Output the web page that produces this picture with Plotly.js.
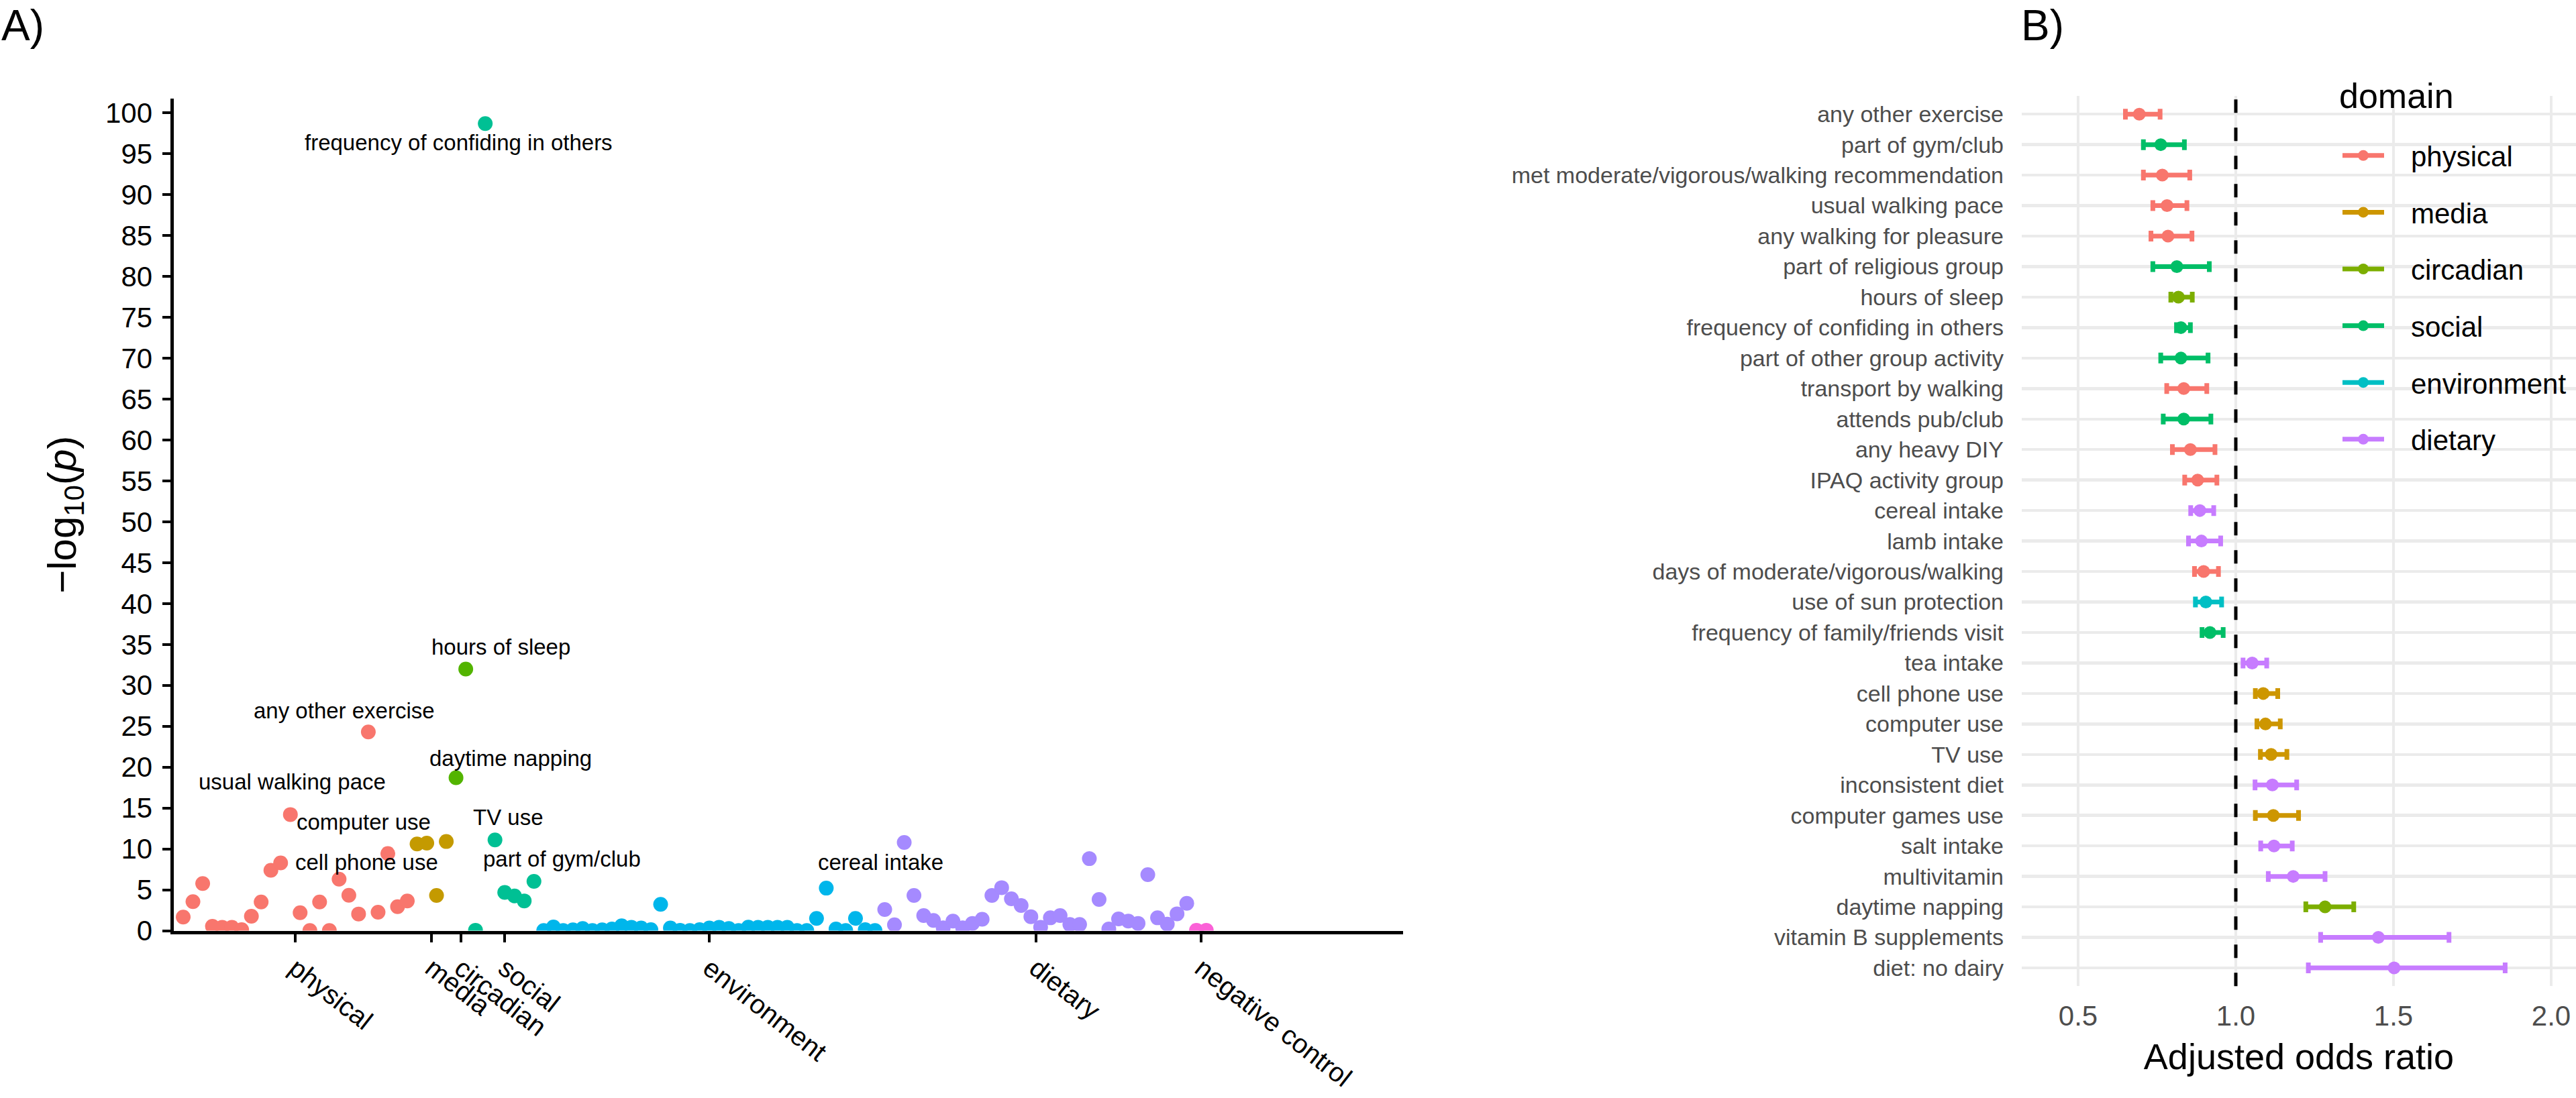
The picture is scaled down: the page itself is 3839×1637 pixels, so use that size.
<!DOCTYPE html>
<html>
<head>
<meta charset="utf-8">
<script src="https://cdn.plot.ly/plotly-3.0.1.min.js"></script>
<style>
html,body{margin:0;padding:0;background:#ffffff;}
#chart{width:3839px;height:1637px;}
</style>
</head>
<body>
<div id="chart"></div>
<script>
// ---------------- Panel A data (−log10 p per variable, grouped by domain) ----------------
const manhattanGroups = ["physical","media","circadian","social","environment","dietary","negative control"];
const manhattanColors = ["#F8766D","#C49A00","#53B400","#00C094","#00B6EB","#A58AFF","#FB61D7"];

const physicalP = [1.66, 3.55, 5.77, 0.53, 0.40, 0.40, 0.13, 1.77, 3.50, 7.39, 8.29, 14.2, 2.20, 0.02, 3.50, 0.02, 6.29, 4.32, 2.04, 24.3, 2.26, 9.44, 2.94, 3.63];
const mediaP = [10.6, 10.7, 4.3, 10.9];
const circadianP = [18.7, 32.0];
const socialP = [0.05, 98.7, 11.1, 4.67, 4.24, 3.64, 6.03];
const environmentP = [0.02, 0.45, 0.02, 0.10, 0.26, 0.02, 0.10, 0.20, 0.59, 0.40, 0.32, 0.13, 3.22, 0.32, 0.04, 0.02, 0.13, 0.32, 0.40, 0.26, 0.02, 0.43, 0.40, 0.40, 0.40, 0.40, 0.02, 0.02, 1.50, 5.20, 0.20, 0.02, 1.50, 0.13, 0.02];
const dietaryP = [2.58, 0.72, 10.79, 4.30, 1.85, 1.25, 0.34, 1.17, 0.34, 0.89, 1.39, 4.30, 5.26, 3.89, 3.07, 1.71, 0.42, 1.57, 1.85, 0.75, 0.75, 8.81, 3.81, 0.20, 1.43, 1.17, 0.89, 6.85, 1.57, 0.80, 2.06, 3.35];
const negativeControlP = [0.05, 0.05];

const manhattanValues = [physicalP, mediaP, circadianP, socialP, environmentP, dietaryP, negativeControlP];

// labelled variables in panel A (text only; placement is layout)
const pointLabels = ["frequency of confiding in others","hours of sleep","any other exercise","daytime napping","usual walking pace","computer use","TV use","cell phone use","part of gym/club","cereal intake"];

// ---------------- Panel B data (adjusted odds ratios) ----------------
const orLabels = ["any other exercise","part of gym/club","met moderate/vigorous/walking recommendation","usual walking pace","any walking for pleasure","part of religious group","hours of sleep","frequency of confiding in others","part of other group activity","transport by walking","attends pub/club","any heavy DIY","IPAQ activity group","cereal intake","lamb intake","days of moderate/vigorous/walking","use of sun protection","frequency of family/friends visit","tea intake","cell phone use","computer use","TV use","inconsistent diet","computer games use","salt intake","multivitamin","daytime napping","vitamin B supplements","diet: no dairy"];
const orDomain = ["physical","social","physical","physical","physical","social","circadian","social","social","physical","social","physical","physical","dietary","dietary","physical","environment","social","dietary","media","media","media","dietary","media","dietary","dietary","circadian","dietary","dietary"];
const orEstimate = [0.694, 0.762, 0.767, 0.782, 0.785, 0.813, 0.818, 0.826, 0.826, 0.835, 0.835, 0.856, 0.879, 0.886, 0.891, 0.898, 0.905, 0.918, 1.052, 1.087, 1.094, 1.112, 1.116, 1.119, 1.121, 1.182, 1.283, 1.452, 1.502];
const orLower = [0.650, 0.707, 0.707, 0.737, 0.731, 0.737, 0.794, 0.812, 0.762, 0.781, 0.770, 0.799, 0.838, 0.857, 0.850, 0.869, 0.872, 0.893, 1.023, 1.062, 1.067, 1.078, 1.061, 1.062, 1.079, 1.103, 1.222, 1.269, 1.230];
const orUpper = [0.760, 0.837, 0.854, 0.845, 0.861, 0.916, 0.862, 0.856, 0.912, 0.908, 0.921, 0.934, 0.940, 0.930, 0.952, 0.945, 0.955, 0.960, 1.098, 1.133, 1.141, 1.162, 1.193, 1.199, 1.179, 1.283, 1.374, 1.676, 1.854];
const orDomains = ["physical","media","circadian","social","environment","dietary"];
const orColors = ["#F8766D","#CD9600","#7CAE00","#00BE67","#00BFC4","#C77CFF"];
const orTicks = [0.5, 1.0, 1.5, 2.0];

// ---------------- build traces ----------------
const FONT = "Liberation Sans, Arial, Helvetica, sans-serif";
const traces = [];
const tickVals = [];
let counter = 0;
manhattanValues.forEach((vals, g) => {
  const xs = vals.map(() => ++counter);
  tickVals.push((xs[0] + xs[xs.length - 1]) / 2);
  traces.push({
    type: "scatter", mode: "markers", x: xs, y: vals,
    xaxis: "x", yaxis: "y", showlegend: false, hoverinfo: "skip",
    marker: {color: manhattanColors[g], size: 22, line: {width: 0}},
    cliponaxis: true
  });
});

orDomains.forEach((d, k) => {
  const rows = orLabels.map((_, i) => i).filter(i => orDomain[i] === d);
  traces.push({
    type: "scatter", mode: "markers", xaxis: "x2", yaxis: "y2",
    x: rows.map(i => orEstimate[i]), y: rows.map(i => orLabels[i]),
    showlegend: false, hoverinfo: "skip",
    marker: {color: orColors[k], size: 19},
    error_x: {type: "data", symmetric: false,
      array: rows.map(i => orUpper[i] - orEstimate[i]),
      arrayminus: rows.map(i => orEstimate[i] - orLower[i]),
      color: orColors[k], thickness: 7, width: 8}
  });
});
// legend entries (one per domain)
const NB = "\u00a0\u00a0\u00a0";
orDomains.forEach((d, k) => {
  traces.push({
    type: "scatter", mode: "lines+markers", xaxis: "x2", yaxis: "y2",
    x: [null], y: [null], name: NB + d, legendgroup: d, showlegend: true,
    line: {color: orColors[k], width: 7}, marker: {color: orColors[k], size: 19}
  });
});

// label placement for panel A (index, value)
const labelPlacement = [[29.24, 96.35],[33.62, 34.66],[17.53, 26.87],[34.62, 21.12],[12.19, 18.25],[19.51, 13.25],[34.34, 13.88],[19.85, 8.35],[39.86, 8.8],[72.6, 8.33]];
const annotations = pointLabels.map((t, i) => ({
  text: t, x: labelPlacement[i][0], y: labelPlacement[i][1], xref: "x", yref: "y",
  showarrow: false, xanchor: "center", yanchor: "middle",
  font: {family: FONT, size: 33, color: "#000"}
}));
annotations.push({text: "A)", xref: "paper", yref: "paper", x: 0, y: 1.0, xanchor: "left", yanchor: "top", showarrow: false, font: {family: FONT, size: 64, color: "#000"}});
annotations.push({text: "B)", xref: "paper", yref: "paper", x: 3010/3839, y: 1.0, xanchor: "left", yanchor: "top", showarrow: false, font: {family: FONT, size: 64, color: "#000"}});
annotations.push({text: "domain", xref: "paper", yref: "paper", x: 3484/3839, y: 1 - 143/1637, xanchor: "left", yanchor: "middle", showarrow: false, font: {family: FONT, size: 52, color: "#000"}});

const layout = {
  width: 3839, height: 1637,
  margin: {l: 0, r: 0, t: 0, b: 0, pad: 0, autoexpand: false},
  paper_bgcolor: "#ffffff", plot_bgcolor: "rgba(0,0,0,0)",
  font: {family: FONT, color: "#000"},
  xaxis: {
    domain: [258.5/3839, 2091/3839], range: [0, 126.2], anchor: "y",
    showline: true, linecolor: "#000", linewidth: 5,
    ticks: "outside", ticklen: 12, tickwidth: 4, tickcolor: "#000",
    tickmode: "array", tickvals: tickVals, ticktext: manhattanGroups, tickangle: 38,
    tickfont: {family: FONT, size: 40, color: "#000"},
    showgrid: false, zeroline: false, automargin: false
  },
  yaxis: {
    domain: [(1637-1387.5)/1637, (1637-147)/1637], range: [0, 101.76], anchor: "x",
    showline: true, linecolor: "#000", linewidth: 5,
    ticks: "outside", ticklen: 12, tickwidth: 4, tickcolor: "#000",
    tick0: 0, dtick: 5, tickfont: {family: FONT, size: 42, color: "#000"},
    ticklabelstandoff: 6,
    showgrid: false, zeroline: false, automargin: false,
    title: {text: "\u2212log<sub>10</sub>(<i>p</i>)", font: {family: FONT, size: 60, color: "#000"}, standoff: 26}
  },
  xaxis2: {
    domain: [3013/3839, 1], range: [0.3213, 2.0787], anchor: "y2",
    tickmode: "array", tickvals: orTicks, ticktext: orTicks.map(v => v.toFixed(1)),
    showgrid: true, gridcolor: "#EBEBEB", gridwidth: 4.5, zeroline: false, showline: false,
    ticks: "", tickfont: {family: FONT, size: 42, color: "#4D4D4D"}, ticklabelstandoff: 16,
    automargin: false,
    title: {text: "Adjusted odds ratio", font: {family: FONT, size: 54, color: "#000"}, standoff: 18}
  },
  yaxis2: {
    domain: [(1637-1470.3)/1637, (1637-142.9)/1637], anchor: "x2",
    type: "category", categoryorder: "array", categoryarray: orLabels, range: [28.6, -0.6],
    showgrid: true, gridcolor: "#EBEBEB", gridwidth: 4.5, zeroline: false, showline: false,
    ticks: "", tickfont: {family: FONT, size: 34, color: "#4D4D4D"}, ticklabelstandoff: 26,
    automargin: false
  },
  shapes: [{
    type: "line", xref: "x2", yref: "y2 domain", x0: 1, x1: 1, y0: 0, y1: 1,
    line: {color: "#000", width: 5, dash: "20px,22px"}, layer: "above"
  }],
  showlegend: true,
  legend: {
    x: 3486/3839, y: 1 - 198/1637, xanchor: "left", yanchor: "top",
    bgcolor: "rgba(0,0,0,0)", borderwidth: 0,
    font: {family: FONT, size: 42, color: "#000"},
    traceorder: "grouped", tracegroupgap: 27, itemwidth: 62, itemsizing: "trace"
  },
  annotations: annotations
};

Plotly.newPlot("chart", traces, layout, {staticPlot: true, displayModeBar: false});
</script>
</body>
</html>
